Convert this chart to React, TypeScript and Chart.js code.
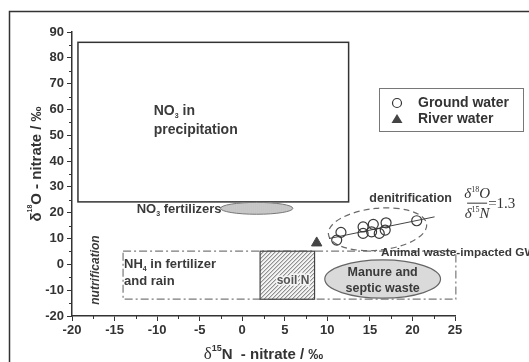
import React, { useEffect, useRef } from "react";
import { Chart, registerables } from "chart.js";

Chart.register(...registerables);

// ---- data ----
const groundWaterX = [11.6, 11.1, 14.2, 14.2, 15.4, 15.2, 16.1, 16.8, 16.9, 20.5];
const groundWaterY = [12.4, 9.4, 14.5, 12.0, 15.5, 12.6, 12.0, 13.3, 16.1, 16.9];
const riverWaterX = [8.75];
const riverWaterY = [8.3];
const fitLineX = [10.2, 22.6];
const fitLineY = [10.0, 18.4];

const xTickValues = [-20, -15, -10, -5, 0, 5, 10, 15, 20, 25];
const yTickValues = [-20, -10, 0, 10, 20, 30, 40, 50, 60, 70, 80, 90];

// source fields in data units: [xMin, xMax, yMin, yMax]
const precipitationField = [-19.3, 12.5, 24.2, 86];
const ammoniumField = [-14, 25.1, -13.5, 5.1];
const soilNField = [2.1, 8.5, -13.5, 5.1];
// ellipses in data units: [centerX, centerY, halfWidth, halfHeight]
const fertilizerField = [1.7, 21.7, 4.25, 2.3];
const manureField = [16.5, -5.7, 6.8, 7.4];
const denitrificationField = [15.9, 13.6, 5.8, 8.1];

const SANS = '"Liberation Sans", Arial, sans-serif';
const SERIF = '"Liberation Serif", "Times New Roman", serif';
const TEXT = "#3a3a3a";

type Run = { t: string; font: string; dy?: number; w?: number };

function drawRuns(ctx: CanvasRenderingContext2D, runs: Run[], x: number, y: number, align: "left" | "center" | "right") {
  let total = 0;
  for (const r of runs) {
    ctx.font = r.font;
    r.w = ctx.measureText(r.t).width;
    total += r.w;
  }
  let s = align === "left" ? x : align === "center" ? x - total / 2 : x - total;
  ctx.textAlign = "left";
  ctx.textBaseline = "alphabetic";
  for (const r of runs) {
    ctx.font = r.font;
    ctx.fillText(r.t, s, y + (r.dy || 0));
    s += r.w || 0;
  }
}

const b = (size: number, style = "") => `${style} bold ${size}px ${SANS}`.trim();

const shapesPlugin = {
  id: "shapes",
  beforeDatasetsDraw(chart: any) {
    const ctx: CanvasRenderingContext2D = chart.ctx;
    const X = (v: number) => chart.scales.x.getPixelForValue(v);
    const Y = (v: number) => chart.scales.y.getPixelForValue(v);
    ctx.save();

    // precipitation box
    {
      const [x0, x1, y0, y1] = precipitationField;
      ctx.strokeStyle = "#333";
      ctx.lineWidth = 1.5;
      ctx.strokeRect(X(x0), Y(y1), X(x1) - X(x0), Y(y0) - Y(y1));
    }

    // ammonium dash-dot box
    {
      const [x0, x1, y0, y1] = ammoniumField;
      ctx.strokeStyle = "#7a7a7a";
      ctx.lineWidth = 1.2;
      ctx.setLineDash([8, 3, 2, 3]);
      ctx.strokeRect(X(x0), Y(y1), X(x1) - X(x0), Y(y0) - Y(y1));
      ctx.setLineDash([]);
    }

    // soil N hatched box
    {
      const [x0, x1, y0, y1] = soilNField;
      const l = X(x0), r = X(x1), t = Y(y1), bt = Y(y0);
      ctx.save();
      ctx.fillStyle = "#f4f4f4";
      ctx.fillRect(l, t, r - l, bt - t);
      ctx.beginPath();
      ctx.rect(l, t, r - l, bt - t);
      ctx.clip();
      ctx.strokeStyle = "#6a6a6a";
      ctx.lineWidth = 1;
      for (let k = l - (bt - t); k < r + 5; k += 4) {
        ctx.beginPath();
        ctx.moveTo(k, bt);
        ctx.lineTo(k + (bt - t), t);
        ctx.stroke();
      }
      ctx.restore();
      ctx.strokeStyle = "#444";
      ctx.lineWidth = 1.2;
      ctx.strokeRect(l, t, r - l, bt - t);
    }

    // fertilizer ellipse (striped)
    {
      const [cx, cy, rx, ry] = fertilizerField;
      const ex = X(cx), ey = Y(cy), erx = X(cx + rx) - ex, ery = Y(cy) - Y(cy + ry);
      ctx.save();
      ctx.beginPath();
      ctx.ellipse(ex, ey, erx, ery, 0, 0, Math.PI * 2);
      ctx.fillStyle = "#d6d6d6";
      ctx.fill();
      ctx.clip();
      ctx.strokeStyle = "#b8b8b8";
      ctx.lineWidth = 1;
      for (let k = ex - erx; k < ex + erx; k += 2) {
        ctx.beginPath();
        ctx.moveTo(k + 0.5, ey - ery);
        ctx.lineTo(k + 0.5, ey + ery);
        ctx.stroke();
      }
      ctx.restore();
      ctx.beginPath();
      ctx.ellipse(ex, ey, erx, ery, 0, 0, Math.PI * 2);
      ctx.strokeStyle = "#777";
      ctx.lineWidth = 1;
      ctx.stroke();
    }

    // manure ellipse
    {
      const [cx, cy, rx, ry] = manureField;
      const ex = X(cx), ey = Y(cy), erx = X(cx + rx) - ex, ery = Y(cy) - Y(cy + ry);
      ctx.beginPath();
      ctx.ellipse(ex, ey, erx, ery, 0, 0, Math.PI * 2);
      ctx.fillStyle = "#dadada";
      ctx.fill();
      ctx.strokeStyle = "#666";
      ctx.lineWidth = 1.2;
      ctx.stroke();
    }

    // denitrification dashed ellipse
    {
      const [cx, cy, rx, ry] = denitrificationField;
      const ex = X(cx), ey = Y(cy), erx = X(cx + rx) - ex, ery = Y(cy) - Y(cy + ry);
      ctx.beginPath();
      ctx.ellipse(ex, ey, erx, ery, -0.1, 0, Math.PI * 2);
      ctx.strokeStyle = "#6a6a6a";
      ctx.lineWidth = 1.2;
      ctx.setLineDash([6, 4]);
      ctx.stroke();
      ctx.setLineDash([]);
    }

    // labels
    ctx.fillStyle = TEXT;
    drawRuns(ctx, [{ t: "NO", font: b(14) }, { t: "3", font: b(7), dy: 3 }, { t: " in", font: b(14) }], X(-10.4), Y(59.8) + 5, "left");
    drawRuns(ctx, [{ t: "precipitation", font: b(14) }], X(-10.4), Y(52.3) + 5, "left");

    drawRuns(ctx, [{ t: "NO", font: b(13) }, { t: "3", font: b(7), dy: 3 }, { t: " fertilizers", font: b(13) }],
      X(fertilizerField[0] - fertilizerField[2]) + 1, Y(fertilizerField[1]) + 4.5, "right");

    drawRuns(ctx, [{ t: "NH", font: b(13) }, { t: "4", font: b(7), dy: 3 }, { t: " in fertilizer", font: b(13) }], X(-14) + 1, Y(0.42) + 4.5, "left");
    drawRuns(ctx, [{ t: "and rain", font: b(13) }], X(-14) + 1, Y(-6.3) + 4.5, "left");

    ctx.save();
    ctx.strokeStyle = "#f4f4f4";
    ctx.lineWidth = 3;
    ctx.font = b(12);
    ctx.textAlign = "center";
    ctx.textBaseline = "alphabetic";
    ctx.strokeText("soil N", X(5.97), Y(-6.05) + 4.5);
    ctx.fillStyle = "#555";
    ctx.fillText("soil N", X(5.97), Y(-6.05) + 4.5);
    ctx.restore();

    ctx.fillStyle = TEXT;
    drawRuns(ctx, [{ t: "Manure and", font: b(12.5) }], X(manureField[0]), Y(-2.8) + 4.5, "center");
    drawRuns(ctx, [{ t: "septic waste", font: b(12.5) }], X(manureField[0]), Y(-8.9) + 4.5, "center");

    // nutrification (vertical)
    ctx.save();
    ctx.translate(X(-17.18), Y(-2.2));
    ctx.rotate(-Math.PI / 2);
    ctx.font = b(12, "italic");
    ctx.textAlign = "center";
    ctx.textBaseline = "middle";
    ctx.fillText("nutrification", 0, 0);
    ctx.restore();

    drawRuns(ctx, [{ t: "denitrification", font: b(12.5) }], X(14.93), Y(26.0) + 4.5, "left");

    // formula
    {
      const fx = X(27.6), fy = Y(23.9);
      ctx.fillStyle = "#333";
      const it = (s: number) => `italic ${s}px ${SERIF}`;
      drawRuns(ctx, [{ t: "δ", font: it(15) }, { t: "18", font: `${8}px ${SERIF}`, dy: -6 }, { t: "O", font: it(15) }], fx, fy - 5, "center");
      drawRuns(ctx, [{ t: "δ", font: it(15) }, { t: "15", font: `${8}px ${SERIF}`, dy: -6 }, { t: "N", font: it(15) }], fx, fy + 15, "center");
      ctx.strokeStyle = "#333";
      ctx.lineWidth = 1;
      ctx.beginPath();
      ctx.moveTo(fx - 10, fy + 0.5);
      ctx.lineTo(fx + 10, fy + 0.5);
      ctx.stroke();
      drawRuns(ctx, [{ t: "=1.3", font: `15px ${SERIF}` }], fx + 11, fy + 5, "left");
    }

    ctx.fillStyle = TEXT;
    drawRuns(ctx, [{ t: "Animal waste-impacted GW", font: b(11.8) }], X(16.3), Y(4.9) + 4.5, "left");

    ctx.restore();
  },
  afterDraw(chart: any) {
    const ctx: CanvasRenderingContext2D = chart.ctx;
    const xs = chart.scales.x, ys = chart.scales.y;
    const area = chart.chartArea;
    ctx.save();
    // minor ticks
    ctx.strokeStyle = "#333";
    ctx.lineWidth = 1;
    for (let i = 0; i < xTickValues.length - 1; i++) {
      const v = (xTickValues[i] + xTickValues[i + 1]) / 2;
      const p = Math.round(xs.getPixelForValue(v)) + 0.5;
      ctx.beginPath();
      ctx.moveTo(p, area.bottom);
      ctx.lineTo(p, area.bottom + 3);
      ctx.stroke();
    }
    for (let i = 0; i < yTickValues.length - 1; i++) {
      const v = (yTickValues[i] + yTickValues[i + 1]) / 2;
      const p = Math.round(ys.getPixelForValue(v)) + 0.5;
      ctx.beginPath();
      ctx.moveTo(area.left - 3, p);
      ctx.lineTo(area.left, p);
      ctx.stroke();
    }

    // axis titles
    ctx.fillStyle = "#333";
    drawRuns(ctx, [
      { t: "δ", font: `17px ${SERIF}` },
      { t: "15", font: b(9), dy: -8 },
      { t: "N  - nitrate / ‰", font: b(15) },
    ], (area.left + area.right) / 2, 359, "center");

    ctx.save();
    ctx.translate(41, 164);
    ctx.rotate(-Math.PI / 2);
    drawRuns(ctx, [
      { t: "δ", font: b(15) },
      { t: "18", font: b(7), dy: -9 },
      { t: "O - nitrate / ‰", font: b(15) },
    ], 0, 0, "center");
    ctx.restore();

    // legend
    ctx.strokeStyle = "#777";
    ctx.lineWidth = 1;
    ctx.strokeRect(379.5, 88.5, 144, 43);
    ctx.strokeStyle = "#333";
    ctx.lineWidth = 1.2;
    ctx.beginPath();
    ctx.arc(397, 103, 4.5, 0, Math.PI * 2);
    ctx.stroke();
    ctx.fillStyle = "#444";
    ctx.beginPath();
    ctx.moveTo(397, 114);
    ctx.lineTo(402.5, 123);
    ctx.lineTo(391.5, 123);
    ctx.closePath();
    ctx.fill();
    ctx.fillStyle = "#333";
    ctx.font = b(14);
    ctx.textAlign = "left";
    ctx.textBaseline = "middle";
    ctx.fillText("Ground water", 418, 103);
    ctx.fillText("River water", 418, 119.5);

    // outer frame
    ctx.strokeStyle = "#333";
    ctx.lineWidth = 1.5;
    ctx.strokeRect(9.5, 11.5, 1000, 1000);
    ctx.restore();
  },
};

export default function App() {
  const ref = useRef<HTMLCanvasElement | null>(null);
  useEffect(() => {
    if (!ref.current) return;
    const tickFont = { family: SANS, size: 13, weight: "bold" as const };
    const chart = new Chart(ref.current, {
      type: "scatter",
      data: {
        datasets: [
          {
            label: "Ground water",
            data: groundWaterX.map((x, i) => ({ x, y: groundWaterY[i] })),
            pointStyle: "circle",
            pointRadius: 5,
            pointBorderWidth: 1.2,
            borderColor: "#3a3a3a",
            backgroundColor: "rgba(255,255,255,0)",
          },
          {
            label: "River water",
            data: riverWaterX.map((x, i) => ({ x, y: riverWaterY[i] })),
            pointStyle: "triangle",
            pointRadius: 6,
            borderColor: "#444",
            backgroundColor: "#444",
          },
          {
            label: "fit",
            data: fitLineX.map((x, i) => ({ x, y: fitLineY[i] })),
            showLine: true,
            pointRadius: 0,
            borderColor: "#444",
            borderWidth: 1,
          },
        ],
      },
      options: {
        animation: false,
        responsive: false,
        devicePixelRatio: 1,
        layout: { padding: { top: 32, right: 74, left: 0, bottom: 0 } },
        plugins: { legend: { display: false }, tooltip: { enabled: false } },
        scales: {
          x: {
            type: "linear",
            min: -20,
            max: 25,
            afterFit: (s: any) => { s.height = 46; },
            afterBuildTicks: (s: any) => { s.ticks = xTickValues.map((v) => ({ value: v })); },
            ticks: { font: tickFont, color: "#333", padding: 2 },
            grid: { drawOnChartArea: false, drawTicks: true, tickLength: 5, color: "#333" },
            border: { display: true, color: "#333", width: 1.5 },
          },
          y: {
            type: "linear",
            min: -20,
            max: 90,
            afterFit: (s: any) => { s.width = 72; },
            afterBuildTicks: (s: any) => { s.ticks = yTickValues.map((v) => ({ value: v })); },
            ticks: { font: tickFont, color: "#333", padding: 3 },
            grid: { drawOnChartArea: false, drawTicks: true, tickLength: 5, color: "#333" },
            border: { display: true, color: "#333", width: 1.5 },
          },
        },
      },
      plugins: [shapesPlugin],
    });
    return () => chart.destroy();
  }, []);
  return (
    <canvas
      ref={ref}
      width={529}
      height={362}
      style={{ position: "fixed", left: 0, top: 0, width: 529, height: 362, display: "block", background: "#fff" }}
    />
  );
}
